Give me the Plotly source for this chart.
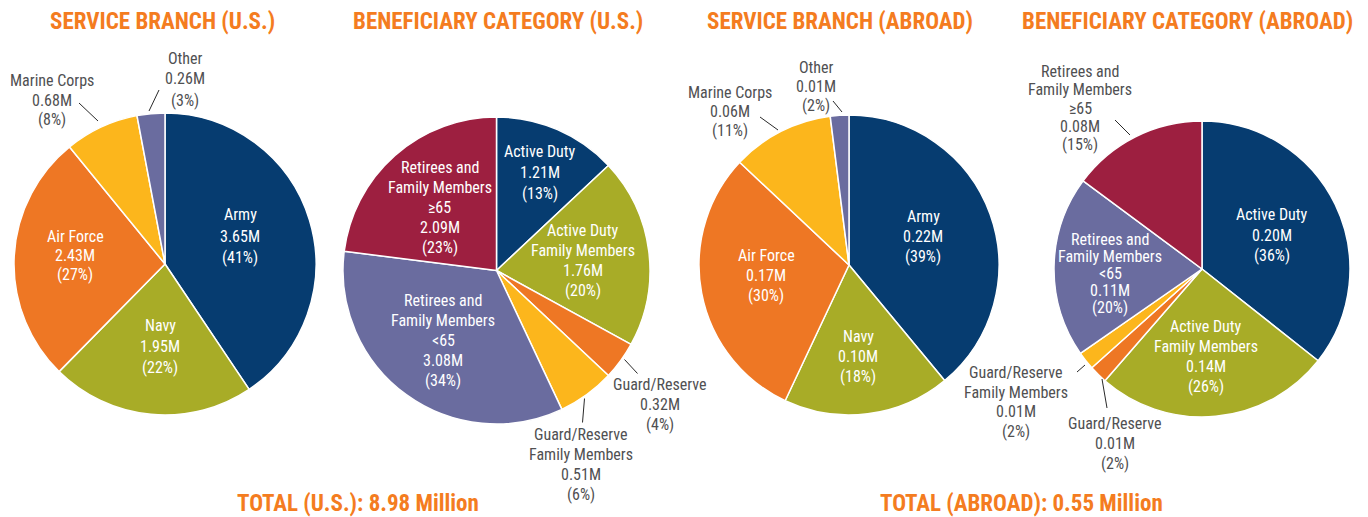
import plotly.graph_objects as go

# page body has an 8px default margin; the figure is sized to fill the rest of the window
OFF = 8
W, H = 1368 - OFF, 517 - OFF

# ---------------- data ----------------
branch_us_labels = ["Army", "Navy", "Air Force", "Marine Corps", "Other"]
branch_us_millions = [3.65, 1.95, 2.43, 0.68, 0.26]
branch_us_pct = [41, 22, 27, 8, 3]

benef_us_labels = ["Active Duty", "Active Duty<br>Family Members", "Guard/Reserve",
                   "Guard/Reserve<br>Family Members", "Retirees and<br>Family Members<br><65",
                   "Retirees and<br>Family Members<br>≥65"]
benef_us_millions = [1.21, 1.76, 0.32, 0.51, 3.08, 2.09]
benef_us_pct = [13, 20, 4, 6, 34, 23]

branch_ab_labels = ["Army", "Navy", "Air Force", "Marine Corps", "Other"]
branch_ab_millions = [0.22, 0.10, 0.17, 0.06, 0.01]
branch_ab_pct = [39, 18, 30, 11, 2]

benef_ab_labels = ["Active Duty", "Active Duty<br>Family Members", "Guard/Reserve",
                   "Guard/Reserve<br>Family Members", "Retirees and<br>Family Members<br><65",
                   "Retirees and<br>Family Members<br>≥65"]
benef_ab_millions = [0.20, 0.14, 0.01, 0.01, 0.11, 0.08]
benef_ab_pct = [36, 26, 2, 2, 20, 15]

titles = ["SERVICE BRANCH (U.S.)", "BENEFICIARY CATEGORY (U.S.)",
          "SERVICE BRANCH (ABROAD)", "BENEFICIARY CATEGORY (ABROAD)"]
totals = ["TOTAL (U.S.): 8.98 Million", "TOTAL (ABROAD): 0.55 Million"]

# ---------------- styles ----------------
NAVY_BLUE = "#063C70"
OLIVE = "#A8AC27"
ORANGE = "#EE7724"
YELLOW = "#FCB61C"
SLATE = "#6A6C9F"
CRIMSON = "#9D1F40"
TITLE_C = "#F47C20"
GREY_T = "#505052"
FONT = "Liberation Sans Narrow, Roboto Condensed, Arial Narrow, sans-serif"

branch_colors = [NAVY_BLUE, OLIVE, ORANGE, YELLOW, SLATE]
benef_colors = [NAVY_BLUE, OLIVE, ORANGE, YELLOW, SLATE, CRIMSON]

# pie geometry in window pixels: center x, center y, radius
geom = [(165, 264, 151), (496.5, 270.5, 153.5), (849, 265, 150), (1202, 269, 148)]

# label placement: (dx, dy of label centre from pie centre, inside?, line spacing)
lab_pos = [
    [(75, -28, True, 21), (-5, 82, True, 21), (-90, -9, True, 19), (-113, -164, False, 20), (20, -185, False, 21)],
    [(43, -98, True, 21), (86, -10, True, 20), (163, 134, False, 20), (84, 194, False, 20),
     (-53, 70, True, 20), (-57, -63, True, 20)],
    [(74, -29, True, 20), (9, 91, True, 20), (-83, 10, True, 20), (-119, -153, False, 19), (-33, -179, False, 19)],
    [(70, -34, True, 20), (4, 87, True, 20), (-87, 174, False, 20), (-186, 133, False, 19.5),
     (-92, 4, True, 17), (-122, -161, False, 18.3)],
]
# leader lines (offsets from pie centre)
leaders = [
    [(-67, -143, -86, -161), (-16, -153, -6, -174)],
    [(128, 89, 141, 103), (88, 128, 86, 152)],
    [(-71, -135, -89, -148), (-7, -153, -16, -164)],
    [(-87, -149, -72, -134), (-125, 103, -117, 96), (-100, 110, -95, 139)],
]
title_x = [162, 498, 840, 1187]
title_y = 22
total_x = [358, 1021]
total_y = 503


def px(x):
    return (x - OFF) / W


def py(y):
    return 1 - (y - OFF) / H


datasets = [
    (branch_us_labels, branch_us_millions, branch_us_pct, branch_colors),
    (benef_us_labels, benef_us_millions, benef_us_pct, benef_colors),
    (branch_ab_labels, branch_ab_millions, branch_ab_pct, branch_colors),
    (benef_ab_labels, benef_ab_millions, benef_ab_pct, benef_colors),
]

fig = go.Figure()
annotations = []
shapes = []

for i, (labels, mills, pcts, colors) in enumerate(datasets):
    cx, cy, r = geom[i]
    fig.add_trace(go.Pie(
        labels=[l.replace("<br>", " ") for l in labels],
        values=pcts,
        sort=False,
        direction="clockwise",
        rotation=0,
        marker=dict(colors=colors, line=dict(color="white", width=1.5)),
        textinfo="none",
        hoverinfo="label+value",
        showlegend=False,
        domain=dict(x=[px(cx - r), px(cx + r)], y=[py(cy + r), py(cy - r)]),
    ))
    for j, lab in enumerate(labels):
        dx, dy, inside, sp = lab_pos[i][j]
        lines = lab.split("<br>") + [f"{mills[j]:.2f}M", f"({pcts[j]}%)"]
        n = len(lines)
        for k, ln in enumerate(lines):
            yy = cy + dy + (k - (n - 1) / 2) * sp
            annotations.append(dict(
                x=px(cx + dx), y=py(yy), xref="paper", yref="paper",
                text=ln, showarrow=False, xanchor="center", yanchor="middle",
                font=dict(family=FONT, size=16, color="white" if inside else GREY_T),
            ))
    for (x0, y0, x1, y1) in leaders[i]:
        shapes.append(dict(type="line", xref="paper", yref="paper",
                           x0=px(cx + x0), y0=py(cy + y0), x1=px(cx + x1), y1=py(cy + y1),
                           line=dict(color="#2a2a2a", width=1)))

for t, x in zip(titles, title_x):
    annotations.append(dict(x=px(x), y=py(title_y), xref="paper", yref="paper", text=f"<b>{t}</b>",
                            showarrow=False, xanchor="center", yanchor="middle",
                            font=dict(family=FONT, size=23, color=TITLE_C)))
for t, x in zip(totals, total_x):
    annotations.append(dict(x=px(x), y=py(total_y), xref="paper", yref="paper", text=f"<b>{t}</b>",
                            showarrow=False, xanchor="center", yanchor="middle",
                            font=dict(family=FONT, size=23, color=TITLE_C)))

fig.update_layout(
    width=W, height=H,
    margin=dict(l=0, r=0, t=0, b=0),
    paper_bgcolor="white", plot_bgcolor="white",
    annotations=annotations, shapes=shapes,
)

fig.write_html("out.html")
